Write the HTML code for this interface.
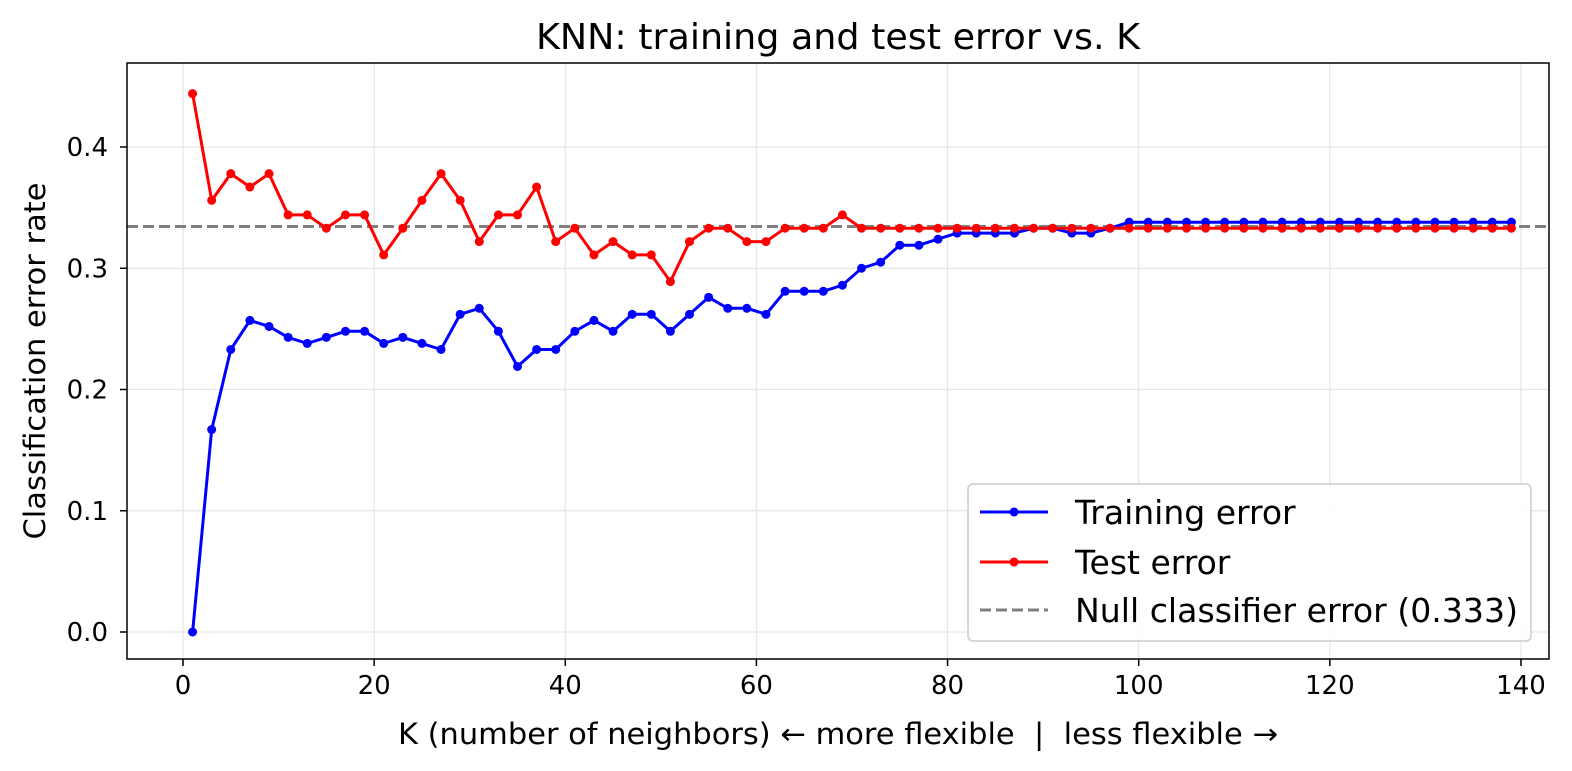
<!DOCTYPE html>
<html><head><meta charset="utf-8"><style>
html,body{margin:0;padding:0;background:#fff;}
svg{display:block;font-family:"DejaVu Sans","Liberation Sans",sans-serif;}
</style></head><body>
<svg id="s" width="1572" height="771" viewBox="0 0 1572 771" xmlns="http://www.w3.org/2000/svg">
<rect width="1572" height="771" fill="#fff"/>
<g id="grid" stroke="#e6e6e6" stroke-width="1.2"></g>
<line x1="127" y1="226.5" x2="1549" y2="226.5" stroke="#808080" stroke-width="3" stroke-dasharray="11,5"/>
<g id="series"></g>
<rect x="127" y="63" width="1422" height="596" fill="none" stroke="#000" stroke-width="1.5"/>
<g id="ticks" font-size="26" fill="#000"></g>
<text x="838" y="49" font-size="36" text-anchor="middle" textLength="604" lengthAdjust="spacingAndGlyphs">KNN: training and test error vs. K</text>
<text x="838" y="744" font-size="29" text-anchor="middle" xml:space="preserve" textLength="880" lengthAdjust="spacingAndGlyphs">K (number of neighbors) ← more flexible  |  less flexible →</text>
<text transform="translate(45,361) rotate(-90)" font-size="29" text-anchor="middle" textLength="357" lengthAdjust="spacingAndGlyphs">Classification error rate</text>
<g>
<rect x="968" y="484" width="563" height="157" rx="5" fill="#fff" fill-opacity="0.85" stroke="#ccc" stroke-width="1.5"/>
<line x1="980" y1="512" x2="1048" y2="512" stroke="#0000ff" stroke-width="3"/><circle cx="1014" cy="512" r="4.5" fill="#0000ff"/>
<text x="1075" y="524" font-size="33">Training error</text>
<line x1="980" y1="562" x2="1048" y2="562" stroke="#ff0000" stroke-width="3"/><circle cx="1014" cy="562" r="4.5" fill="#ff0000"/>
<text x="1075" y="574" font-size="33">Test error</text>
<line x1="980" y1="610" x2="1048" y2="610" stroke="#808080" stroke-width="3" stroke-dasharray="11,5"/>
<text x="1075" y="622" font-size="33" textLength="443" lengthAdjust="spacingAndGlyphs">Null classifier error (0.333)</text>
</g>
</svg>
<script>
var X=function(k){return 183+k*9.557;},Y=function(v){return 632-v*1212.5;};
var tr=[0,.167,.233,.257,.252,.243,.238,.243,.248,.248,.238,.243,.238,.233,.262,.267,.248,.219,.233,.233,.248,.257,.248,.262,.262,.248,.262,.276,.267,.267,.262,.281,.281,.281,.286,.300,.305,.319,.319,.324,.329,.329,.329,.329,.333,.333,.329,.329,.333];
while(tr.length<70)tr.push(.338);
var te=[.444,.356,.378,.367,.378,.344,.344,.333,.344,.344,.311,.333,.356,.378,.356,.322,.344,.344,.367,.322,.333,.311,.322,.311,.311,.289,.322,.333,.333,.322,.322,.333,.333,.333,.344];
while(te.length<70)te.push(.333);
var ns="http://www.w3.org/2000/svg",g=document.getElementById('series'),gr=document.getElementById('grid'),tk=document.getElementById('ticks');
function el(p,n,a){var e=document.createElementNS(ns,n);for(var k in a)e.setAttribute(k,a[k]);p.appendChild(e);return e;}
for(var i=0;i<=140;i+=20){var x=X(i);el(gr,'line',{x1:x,y1:63,x2:x,y2:659});el(tk,'line',{x1:x,y1:659,x2:x,y2:666,stroke:'#000','stroke-width':1.5});var t=el(tk,'text',{x:x,y:694,'text-anchor':'middle'});t.textContent=i;}
for(var j=0;j<=4;j++){var y=Y(j/10);el(gr,'line',{x1:127,y1:y,x2:1549,y2:y});el(tk,'line',{x1:120,y1:y,x2:127,y2:y,stroke:'#000','stroke-width':1.5});var t=el(tk,'text',{x:108,y:y+9,'text-anchor':'end'});t.textContent=(j/10).toFixed(1);}
function draw(d,c){var p=d.map(function(v,i){return X(1+2*i).toFixed(1)+','+Y(v).toFixed(1);}).join(' ');el(g,'polyline',{points:p,fill:'none',stroke:c,'stroke-width':3});d.forEach(function(v,i){el(g,'circle',{cx:X(1+2*i),cy:Y(v),r:4.5,fill:c});});}
draw(tr,'#0000ff');draw(te,'#ff0000');
</script>
</body></html>
